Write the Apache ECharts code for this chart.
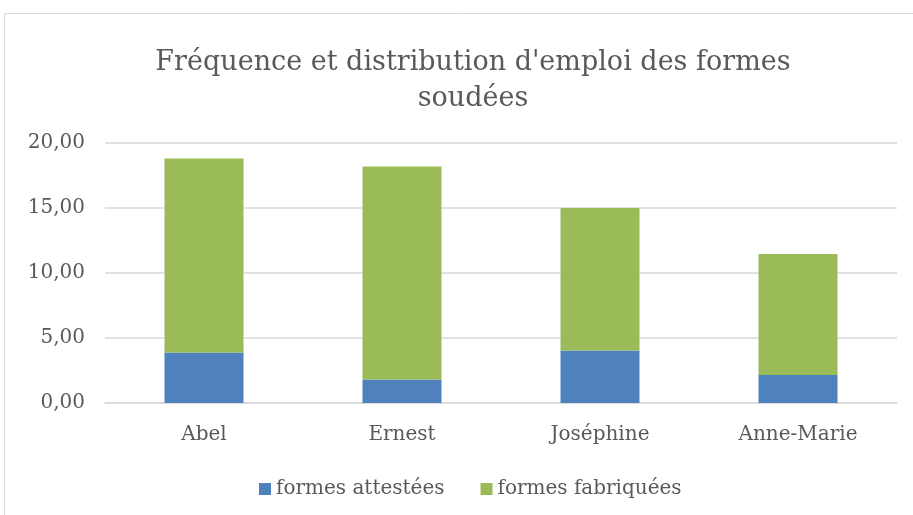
<!DOCTYPE html>
<html lang="fr">
<head>
    <meta charset="UTF-8">
    <title>Formes soudées</title>
    <script src="https://cdn.jsdelivr.net/npm/echarts@6/dist/echarts.min.js"></script>
    <style>
        html, body { margin: 0; padding: 0; background: #fff; }
        #main { width: 913px; height: 515px; }
    </style>
</head>
<body>
    <div id="main"></div>
    <script>
        // values
        const categories = ['Abel', 'Ernest', 'Joséphine', 'Anne-Marie'];
        const attestees = [3.88, 1.8, 4.03, 2.15];
        const fabriquees = [14.92, 16.4, 10.97, 9.31];
        const yTicks = { min: 0, max: 20, interval: 5 };

        const serif = '"DejaVu Serif", "Liberation Serif", serif';
        const textColor = '#595959';

        const chart = echarts.init(document.getElementById('main'));

        chart.setOption({
            backgroundColor: '#fff',
            animation: false,
            title: {
                text: "Fréquence et distribution d'emploi des formes\nsoudées",
                left: 468,
                top: 40,
                textAlign: 'center',
                textStyle: {
                    fontFamily: serif,
                    fontSize: 27,
                    fontWeight: 'normal',
                    color: textColor,
                    lineHeight: 36
                }
            },
            graphic: [{
                type: 'rect',
                shape: { x: 4.5, y: 13.5, width: 940, height: 520 },
                style: { fill: 'none', stroke: '#d9d9d9', lineWidth: 1 },
                silent: true
            }],
            legend: {
                top: 474,
                left: 254,
                itemWidth: 12,
                itemHeight: 12,
                itemGap: 36,
                icon: 'rect',
                textStyle: { fontFamily: serif, fontSize: 20, color: textColor }
            },
            grid: { left: 105, right: 16, top: 143, bottom: 112 },
            xAxis: {
                type: 'category',
                data: categories,
                axisTick: { show: false },
                axisLine: { lineStyle: { color: '#d9d9d9', width: 1.5 } },
                axisLabel: {
                    fontFamily: serif, fontSize: 20, color: textColor, margin: 22
                }
            },
            yAxis: {
                type: 'value',
                min: yTicks.min,
                max: yTicks.max,
                interval: yTicks.interval,
                axisLine: { show: false },
                axisTick: { show: false },
                splitLine: { lineStyle: { color: '#d9d9d9', width: 1.5 } },
                axisLabel: {
                    fontFamily: serif, fontSize: 20, color: textColor, margin: 20,
                    formatter: v => v.toFixed(2).replace('.', ',')
                }
            },
            series: [
                {
                    name: 'formes attestées',
                    type: 'bar',
                    stack: 'total',
                    barWidth: 79,
                    data: attestees,
                    itemStyle: { color: '#4f81bd' }
                },
                {
                    name: 'formes fabriquées',
                    type: 'bar',
                    stack: 'total',
                    barWidth: 79,
                    data: fabriquees,
                    itemStyle: { color: '#9bbb59' }
                }
            ]
        });
    </script>
</body>
</html>
